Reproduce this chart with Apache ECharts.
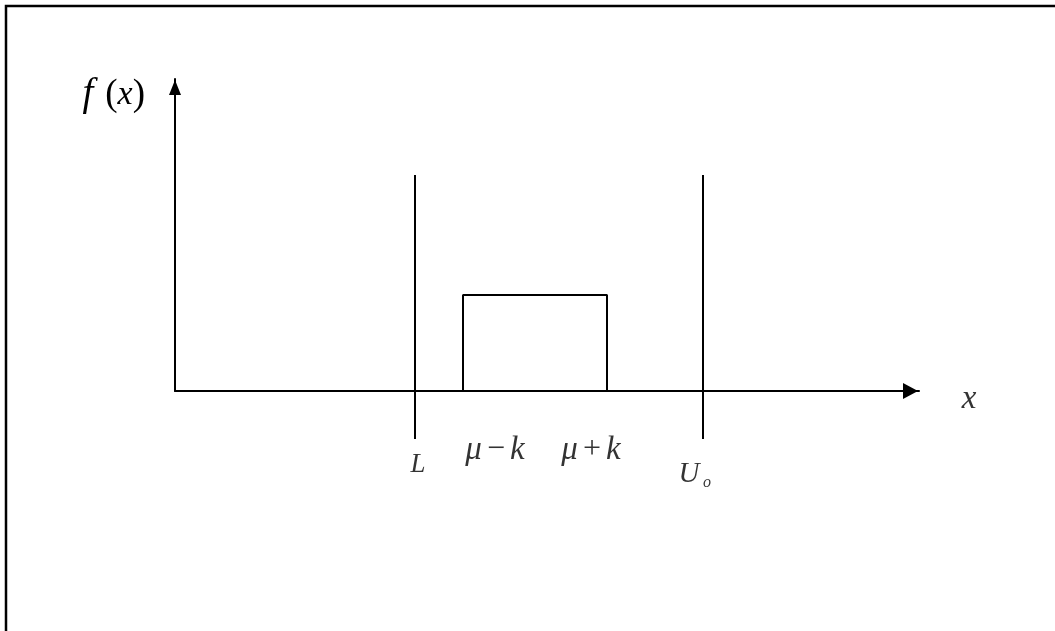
<!DOCTYPE html>
<html>
<head>
<meta charset="utf-8">
<script src="https://cdn.jsdelivr.net/npm/echarts@6/dist/echarts.min.js"></script>
<style>
  html, body { margin: 0; padding: 0; background: #fff; }
  #chart { width: 1055px; height: 631px; }
</style>
</head>
<body>
<div id="chart"></div>
<script>
// ---- data ----
const boundaryNames = ['L', 'U'];
const boundaryValues = [5, 11];          // lower spec L and upper spec U_o
const boundaryRange = [-1, 4.5];         // vertical extent of the limit lines
const densityLow = 6;                    // μ − k
const densityHigh = 9;                   // μ + k
const densityHeight = 2;                 // f(x) on [μ−k, μ+k]
const pointLabels = ['μ−k', 'μ+k'];
const xName = 'x';
const xMax = 15.5;
const yMax = 6.5;

const serif = '"Liberation Serif", "DejaVu Serif", serif';
const black = '#000';

const rectData = [[densityLow, 0], [densityLow, densityHeight], [densityHigh, densityHeight], [densityHigh, 0]];

function vline(v) {
  return {
    type: 'line', data: [[v, boundaryRange[0]], [v, boundaryRange[1]]],
    symbol: 'none', clip: false, silent: true,
    lineStyle: { color: black, width: 2 }
  };
}

function textPoint(v, text, offset, rich) {
  return {
    type: 'scatter', clip: false, silent: true, symbolSize: 0,
    data: [[v, 0]],
    label: {
      show: true, position: 'inside', offset: offset,
      formatter: text, rich: rich, color: black
    }
  };
}

const italic = { fontFamily: serif, fontStyle: 'italic', color: black };
const opRich = {
  i: Object.assign({ fontSize: 33 }, italic),
  n: { fontFamily: serif, fontSize: 32, color: black, padding: [0, 5, 0, 5] }
};

const option = {
  animation: false,
  backgroundColor: '#fff',
  graphic: [{
    type: 'rect', shape: { x: 6, y: 6, width: 1100, height: 700 },
    style: { fill: 'none', stroke: black, lineWidth: 2.5 }, silent: true
  }],
  grid: { left: 175, top: 79, width: 744, height: 312 },
  xAxis: {
    type: 'value', min: 0, max: xMax,
    axisLine: { show: true, onZero: false, symbol: ['none', 'triangle'], symbolSize: [16, 15], symbolOffset: [0, -8.5], lineStyle: { color: black, width: 2 } },
    axisTick: { show: false }, axisLabel: { show: false }, splitLine: { show: false }
  },
  yAxis: {
    type: 'value', min: 0, max: yMax,
    axisLine: { show: true, onZero: false, symbol: ['none', 'triangle'], symbolSize: [12, 15], symbolOffset: [0, -8.5], lineStyle: { color: black, width: 2 } },
    axisTick: { show: false }, axisLabel: { show: false }, splitLine: { show: false },
    name: '{f|f}{p|(}{i|x}{p|)}', nameLocation: 'end', nameGap: -16,
    nameTextStyle: {
      align: 'right', verticalAlign: 'middle', padding: [0, 30, 0, 0],
      rich: {
        f: Object.assign({ fontSize: 39, padding: [0, 12, 0, 0] }, italic),
        i: Object.assign({ fontSize: 34 }, italic),
        p: { fontFamily: serif, fontSize: 37, color: black }
      }
    }
  },
  series: [
    {
      type: 'line', data: rectData, symbol: 'none', silent: true,
      lineStyle: { color: black, width: 2 }
    },
    vline(boundaryValues[0]),
    vline(boundaryValues[1]),
    textPoint(xMax, '{i|' + xName + '}', [50, 8], { i: Object.assign({ fontSize: 33 }, italic) }),
    textPoint(boundaryValues[0], '{i|' + boundaryNames[0] + '}', [3, 74], { i: Object.assign({ fontSize: 27 }, italic) }),
    textPoint(densityLow, '{i|' + pointLabels[0].replace('−', '}{n|−}{i|') + '}', [32, 59], opRich),
    textPoint(densityHigh, '{i|' + pointLabels[1].replace('+', '}{n|+}{i|') + '}', [-16, 59], opRich),
    textPoint(boundaryValues[1], '{i|' + boundaryNames[1] + '}', [-14, 83], { i: Object.assign({ fontSize: 29 }, italic) }),
    textPoint(boundaryValues[1], '{i|o}', [4, 92], { i: Object.assign({ fontSize: 16 }, italic) })
  ]
};

const chart = echarts.init(document.getElementById('chart'), null, { renderer: 'canvas' });
chart.setOption(option);
</script>
</body>
</html>
